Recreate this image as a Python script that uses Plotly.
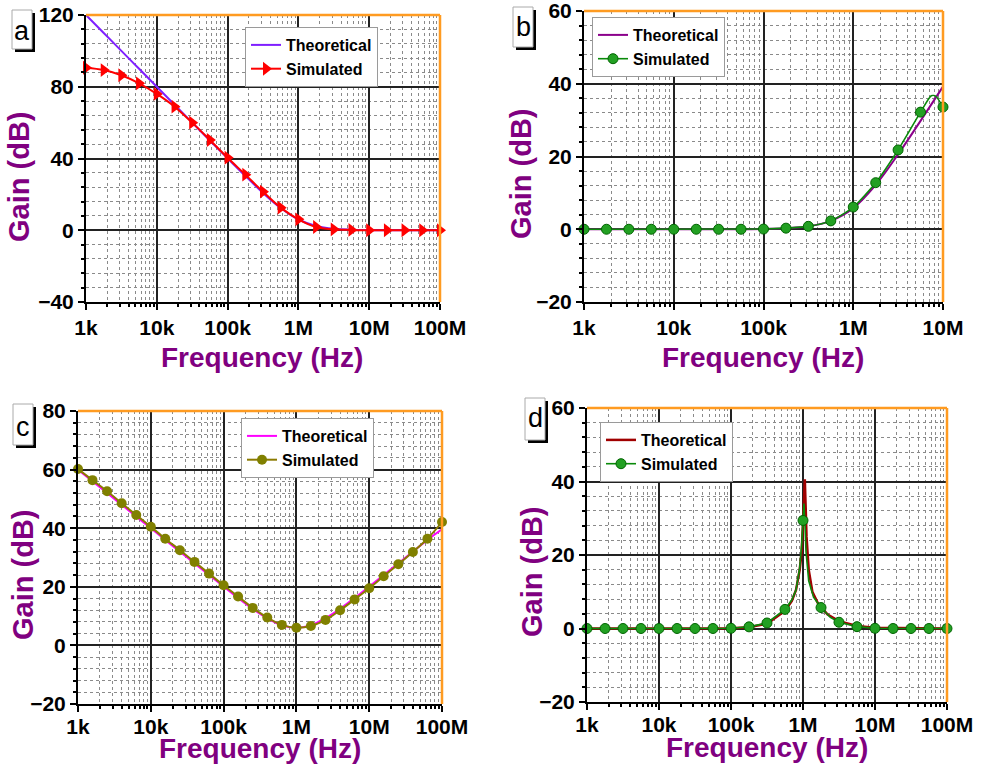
import plotly.graph_objects as go

W, H = 981, 764

# ---------------- data ----------------
# Panel a
a_theo_f = [1e3, 1.78e3, 3.16e3, 5.62e3, 1e4, 1.78e4, 3.16e4, 5.62e4, 1e5, 1.78e5, 3.16e5, 5.62e5,
            1e6, 1.78e6, 3.16e6, 5.62e6, 1e7, 1.78e7, 3.16e7, 5.62e7, 1e8]
a_theo_g = [120.0, 110.0, 100.0, 90.0, 80.0, 70.0, 60.0, 50.0, 40.1, 30.3, 20.8, 12.4,
            6.0, 2.4, 0.8, 0.3, 0.1, 0.0, 0.0, 0.0, 0.0]
a_sim_f = a_theo_f
a_sim_g = [90.6, 89.3, 86.4, 81.9, 76.0, 68.9, 60.0, 50.3, 40.4, 31.0, 21.5, 12.6,
           6.1, 1.8, 0.5, 0.2, 0.0, 0.0, 0.0, 0.0, 0.0]

# Panel b
b_theo_f = [1e3, 1.78e3, 3.16e3, 5.62e3, 1e4, 1.78e4, 3.16e4, 5.62e4, 1e5, 1.78e5, 3.16e5, 5.62e5,
            1e6, 1.78e6, 3.16e6, 5.62e6, 1e7]
b_theo_g = [0, 0, 0, 0, 0, 0, 0, 0, 0.1, 0.3, 0.8, 2.3, 5.8, 12.2, 20.6, 29.8, 39.2]
b_sim_f = b_theo_f
b_sim_g = [0, 0, 0, 0, 0, 0, 0, 0, 0.05, 0.3, 0.8, 2.3, 6.1, 12.8, 21.8, 32.2, 33.6]
b_simline_f = [1e3, 1e5, 1.78e5, 3.16e5, 5.62e5, 1e6, 1.78e6, 3.16e6, 5.62e6, 7.4e6, 8.3e6, 1e7]
b_simline_g = [0, 0.05, 0.3, 0.8, 2.3, 6.1, 12.8, 21.8, 32.2, 36.7, 36.6, 33.6]

# Panel c
c_f = [1e3, 1.58e3, 2.51e3, 3.98e3, 6.31e3, 1e4, 1.58e4, 2.51e4, 3.98e4, 6.31e4,
       1e5, 1.58e5, 2.51e5, 3.98e5, 6.31e5, 1e6, 1.58e6, 2.51e6, 3.98e6, 6.31e6,
       1e7, 1.58e7, 2.51e7, 3.98e7, 6.31e7, 1e8]
c_theo_g = [60.0, 56.0, 52.0, 48.0, 44.0, 40.0, 36.0, 32.0, 28.0, 24.0,
            20.1, 16.2, 12.5, 9.3, 6.9, 6.0, 6.9, 9.3, 12.5, 16.2,
            20.1, 24.0, 28.0, 32.0, 36.0, 39.6]
c_sim_g = [60.2, 56.4, 52.6, 48.5, 44.5, 40.5, 36.4, 32.5, 28.5, 24.5,
           20.5, 16.7, 12.8, 9.5, 7.0, 6.0, 6.6, 8.7, 12.0, 15.7,
           19.5, 23.6, 27.7, 31.9, 36.4, 42.1]

# Panel d
d_sim_f = [1e3, 1.78e3, 3.16e3, 5.62e3, 1e4, 1.78e4, 3.16e4, 5.62e4, 1e5, 1.78e5, 3.16e5, 5.62e5,
           1e6, 1.78e6, 3.16e6, 5.62e6, 1e7, 1.78e7, 3.16e7, 5.62e7, 1e8]
d_sim_g = [0, 0, 0, 0, 0, 0, 0, 0, 0.05, 0.45, 1.5, 5.2, 29.4, 5.7, 1.7, 0.5, 0.05, 0, 0, 0, 0]
d_simline_f = [1e3, 1e5, 1.78e5, 3.16e5, 5.62e5, 7.0e5, 8.0e5, 9.0e5, 9.6e5, 1.0e6, 1.03e6,
               1.06e6, 1.1e6, 1.2e6, 1.4e6, 1.78e6, 2.4e6, 3.16e6, 5.62e6, 1e7, 1e8]
d_simline_g = [0, 0.05, 0.45, 1.5, 5.2, 7.8, 10.5, 16.5, 23.0, 29.4, 34.0,
               29.0, 21.0, 13.0, 8.5, 5.7, 3.0, 1.7, 0.5, 0.05, 0]
d_theo_f = [1e3, 1e5, 1.78e5, 3.16e5, 5.62e5, 7.0e5, 8.0e5, 9.0e5, 9.6e5, 1.0e6, 1.03e6,
            1.06e6, 1.09e6, 1.12e6, 1.2e6, 1.35e6, 1.6e6, 1.78e6, 2.2e6, 3.16e6, 5.62e6, 1e7, 1e8]
d_theo_g = [0, 0.1, 0.35, 1.3, 4.8, 7.5, 10.5, 16.0, 21.0, 28.0, 35.0,
            40.6, 33.0, 25.0, 16.0, 10.0, 7.0, 6.0, 3.8, 2.0, 0.7, 0.2, 0]

x_tickvals = [1e3, 1e4, 1e5, 1e6, 1e7, 1e8]
x_ticktext = ["1k", "10k", "100k", "1M", "10M", "100M"]

# ---------------- helpers ----------------
def fx(px):
    return px / W

def fy(py):
    return 1 - py / H

FONT = "Arial"
PURPLE = "#800080"
ORANGE = "#FF9B21"

minor_x = [m * 10 ** d for d in range(3, 8) for m in range(2, 10)]

def xaxis(dom, rng, anchor, standoff=0):
    return dict(domain=dom, type="log", range=rng, anchor=anchor, automargin=False,
                tickmode="array", tickvals=x_tickvals, ticktext=x_ticktext,
                ticklabeloverflow="allow", ticklabelstandoff=standoff,
                ticks="outside", ticklen=6, tickwidth=2, tickcolor="black",
                showline=True, linecolor="black", linewidth=2, mirror=False,
                showgrid=True, gridcolor="#222222", gridwidth=1.5,
                tickfont=dict(family=FONT, size=21, color="black", weight="bold"),
                minor=dict(tickmode="array", tickvals=minor_x, ticks="outside", ticklen=3,
                           tickwidth=1.5, tickcolor="black", showgrid=True,
                           gridcolor="#8a8a8a", griddash="dot", gridwidth=1),
                zeroline=False)

def yaxis(dom, rng, dtick, mdtick, anchor):
    return dict(domain=dom, range=rng, anchor=anchor, automargin=False,
                tickmode="linear", tick0=0, dtick=dtick, ticklabeloverflow="allow",
                ticks="outside", ticklen=6, tickwidth=2, tickcolor="black",
                showline=True, linecolor="black", linewidth=2, mirror=False,
                showgrid=True, gridcolor="#222222", gridwidth=1.5,
                tickfont=dict(family=FONT, size=21, color="black", weight="bold"),
                minor=dict(dtick=mdtick, tick0=0, ticks="outside", ticklen=3,
                           tickwidth=1.5, tickcolor="black", showgrid=True,
                           gridcolor="#8a8a8a", griddash="dot", gridwidth=1),
                zeroline=False)

fig = go.Figure()

GREEN = "#0A8A0A"
sphere = dict(symbol="circle", size=10, color="#22a022",
              line=dict(color="#006400", width=1))

# Panel a
fig.add_trace(go.Scatter(x=a_theo_f, y=a_theo_g, mode="lines", name="Theoretical",
                         line=dict(color="#7F1FFF", width=2, shape="spline"),
                         xaxis="x", yaxis="y", legend="legend"))
fig.add_trace(go.Scatter(x=a_sim_f, y=a_sim_g, mode="lines+markers", name="Simulated",
                         line=dict(color="#FF0000", width=2, shape="spline"),
                         marker=dict(symbol="triangle-right", size=12, color="#FF0000"),
                         cliponaxis=False, xaxis="x", yaxis="y", legend="legend"))

# Panel b
fig.add_trace(go.Scatter(x=b_theo_f, y=b_theo_g, mode="lines", name="Theoretical",
                         line=dict(color="#8B008B", width=2, shape="spline"),
                         xaxis="x2", yaxis="y2", legend="legend2"))
fig.add_trace(go.Scatter(x=b_simline_f, y=b_simline_g, mode="lines", showlegend=False,
                         line=dict(color=GREEN, width=1.6, shape="spline", smoothing=0.6),
                         xaxis="x2", yaxis="y2"))
fig.add_trace(go.Scatter(x=b_sim_f, y=b_sim_g, mode="markers", name="Simulated",
                         marker=sphere, cliponaxis=False,
                         xaxis="x2", yaxis="y2", legend="legend2", showlegend=False))
# legend entry for the simulated (line + marker) series
fig.add_trace(go.Scatter(x=[None], y=[None], mode="lines+markers", name="Simulated",
                         line=dict(color=GREEN, width=1.6), marker=sphere,
                         xaxis="x2", yaxis="y2", legend="legend2"))

# Panel c
fig.add_trace(go.Scatter(x=c_f, y=c_theo_g, mode="lines", name="Theoretical",
                         line=dict(color="#FF00FF", width=2, shape="spline"),
                         xaxis="x3", yaxis="y3", legend="legend3"))
fig.add_trace(go.Scatter(x=c_f, y=c_sim_g, mode="lines+markers", name="Simulated",
                         line=dict(color="#8B7A00", width=2, shape="spline"),
                         marker=dict(symbol="circle", size=10, color="#808000"),
                         cliponaxis=False, xaxis="x3", yaxis="y3", legend="legend3"))

# Panel d
fig.add_trace(go.Scatter(x=d_theo_f, y=d_theo_g, mode="lines", name="Theoretical",
                         line=dict(color="#A00000", width=2.5),
                         xaxis="x4", yaxis="y4", legend="legend4"))
fig.add_trace(go.Scatter(x=d_simline_f, y=d_simline_g, mode="lines", showlegend=False,
                         line=dict(color=GREEN, width=1.6),
                         xaxis="x4", yaxis="y4"))
fig.add_trace(go.Scatter(x=d_sim_f, y=d_sim_g, mode="markers", name="Simulated",
                         marker=sphere, cliponaxis=False,
                         xaxis="x4", yaxis="y4", legend="legend4", showlegend=False))
fig.add_trace(go.Scatter(x=[None], y=[None], mode="lines+markers", name="Simulated",
                         line=dict(color=GREEN, width=1.6), marker=sphere,
                         xaxis="x4", yaxis="y4", legend="legend4"))

def legend(x, y):
    return dict(x=fx(x), y=fy(y), xanchor="left", yanchor="top", bgcolor="white",
                bordercolor="#9a9a9a", borderwidth=1, tracegroupgap=0,
                font=dict(family=FONT, size=16, color="black", weight="bold"),
                itemwidth=30)

shapes = []
annotations = []

for xr, yr in [("x", "y"), ("x2", "y2"), ("x3", "y3"), ("x4", "y4")]:
    shapes.append(dict(type="line", xref=xr + " domain", yref=yr + " domain", x0=0, x1=1, y0=1, y1=1,
                       line=dict(color=ORANGE, width=2.5), layer="above"))
    shapes.append(dict(type="line", xref=xr + " domain", yref=yr + " domain", x0=1, x1=1, y0=0, y1=1,
                       line=dict(color=ORANGE, width=2.5), layer="above"))

# panel letter boxes
for (x0, y0, x1, y1, letter, ly) in [(12, 10, 32, 49, "a", 31), (513, 7, 533, 47, "b", 27),
                                      (13, 404, 33, 445, "c", 427), (525, 398, 545, 440, "d", 418)]:
    shapes.append(dict(type="rect", xref="paper", yref="paper", x0=fx(x0 + 3), x1=fx(x1 + 3),
                       y0=fy(y1 + 3), y1=fy(y0 + 3), fillcolor="black", line=dict(width=0)))
    shapes.append(dict(type="rect", xref="paper", yref="paper", x0=fx(x0), x1=fx(x1),
                       y0=fy(y1), y1=fy(y0), fillcolor="white", line=dict(color="#aaaaaa", width=1)))
    annotations.append(dict(x=fx((x0 + x1) / 2), y=fy(ly), xref="paper", yref="paper", text=letter,
                            showarrow=False, xanchor="center", yanchor="middle",
                            font=dict(family=FONT, size=27, color="black")))

# axis titles
for (cx, cy) in [(19, 177), (521, 174), (23, 575), (532, 572)]:
    annotations.append(dict(x=fx(cx), y=fy(cy), xref="paper", yref="paper", text="Gain (dB)",
                            textangle=-90, showarrow=False, xanchor="center", yanchor="middle",
                            font=dict(family=FONT, size=29, color=PURPLE, weight="bold")))
for (cx, cy) in [(262, 357), (763, 357), (260, 748), (767, 747)]:
    annotations.append(dict(x=fx(cx), y=fy(cy), xref="paper", yref="paper", text="Frequency (Hz)",
                            showarrow=False, xanchor="center", yanchor="middle",
                            font=dict(family=FONT, size=28, color=PURPLE, weight="bold")))

fig.update_layout(
    width=W, height=H, margin=dict(l=0, r=0, t=0, b=0, autoexpand=False),
    paper_bgcolor="white", plot_bgcolor="white",
    xaxis=xaxis([fx(86), fx(440)], [2.9999, 8], "y"),
    yaxis=yaxis([fy(302), fy(15)], [-40, 120], 40, 8, "x"),
    xaxis2=xaxis([fx(584), fx(943)], [2.9999, 7.0001], "y2"),
    yaxis2=yaxis([fy(302), fy(11)], [-20, 60], 20, 4, "x2"),
    xaxis3=xaxis([fx(78), fx(442)], [2.9999, 8], "y3", standoff=-3),
    yaxis3=yaxis([fy(704), fy(411)], [-20, 80], 20, 4, "x3"),
    xaxis4=xaxis([fx(587), fx(947)], [2.9999, 8.0001], "y4", standoff=-3),
    yaxis4=yaxis([fy(702), fy(408)], [-20, 60], 20, 4, "x4"),
    legend=legend(245, 27),
    legend2=legend(592, 17),
    legend3=legend(241, 418),
    legend4=legend(600, 422),
    shapes=shapes,
    annotations=annotations,
    showlegend=True,
)

fig.write_html("out.html")
